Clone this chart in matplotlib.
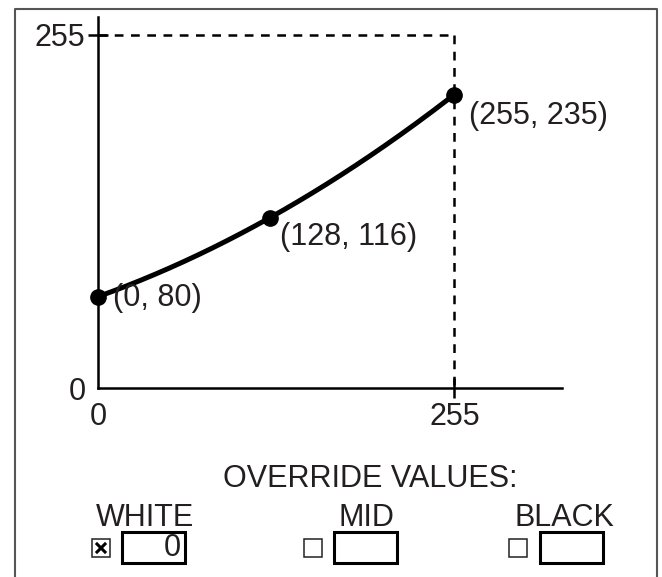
import numpy as np
import matplotlib.pyplot as plt
from matplotlib.patches import Rectangle
from matplotlib.lines import Line2D
from matplotlib import font_manager

names = {f.name for f in font_manager.fontManager.ttflist}
if 'Liberation Sans Narrow' in names:
    plt.rcParams['font.family'] = ['Liberation Sans Narrow', 'DejaVu Sans']
    fs = 26.5
else:
    plt.rcParams['font.family'] = ['Liberation Sans', 'DejaVu Sans']
    fs = 22

# curve points (positions as drawn) and their labels
pt_x = [0, 123, 255]
pt_y = [66, 123, 212]
pt_labels = ['(0, 80)', '(128, 116)', '(255, 235)']
label_offsets = [(15, -1), (10, -19), (15, -21)]

max_val = 255
tick_vals = [0, 255]
tick_labels = ['0', '255']

groups = ['WHITE', 'MID', 'BLACK']
checked = [True, False, False]
values = ['0', '', '']

txt = '#231f20'
W, H = 662, 577
fig = plt.figure(figsize=(W / 100, H / 100), dpi=100)

# overlay axes in pixel units for frame and widgets
ov = fig.add_axes([0, 0, 1, 1])
ov.set_xlim(0, W)
ov.set_ylim(H, 0)
ov.axis('off')

# main graph
ax = fig.add_axes([98 / W, (H - 388) / H, 464 / W, 371 / H])
ax.set_xlim(0, 332)
ax.set_ylim(0, 268)
ax.patch.set_alpha(0)
for s in ['top', 'right']:
    ax.spines[s].set_visible(False)
for s in ['left', 'bottom']:
    ax.spines[s].set_linewidth(1.8)
    ax.spines[s].set_color('black')

ax.set_xticks(tick_vals)
ax.set_xticklabels(tick_labels)
ax.set_yticks(tick_vals)
ax.set_yticklabels(tick_labels)
ax.tick_params(axis='both', direction='inout', length=14, width=1.8,
               labelsize=fs, labelcolor=txt)
ax.tick_params(axis='x', pad=3)
ax.tick_params(axis='y', pad=2)
ax.xaxis.get_major_ticks()[0].tick1line.set_visible(False)
ax.yaxis.get_major_ticks()[0].tick1line.set_visible(False)

# dashed guides at max value
ax.plot([0, max_val], [max_val, max_val], color='black', lw=1.8,
        linestyle=(0, (3.5, 3)), zorder=1)
ax.plot([max_val, max_val], [max_val, 0], color='black', lw=1.8,
        linestyle=(0, (3.5, 3)), zorder=1)

# smooth curve through the points
coef = np.polyfit(pt_x, pt_y, 2)
xs = np.linspace(pt_x[0], pt_x[-1], 200)
ax.plot(xs, np.polyval(coef, xs), color='black', lw=3.6, zorder=3,
        solid_capstyle='round')
ax.plot(pt_x, pt_y, 'o', color='black', markersize=11, zorder=4, clip_on=False)
for x, y, lab, off in zip(pt_x, pt_y, pt_labels, label_offsets):
    ax.annotate(lab, (x, y), xytext=off, textcoords='offset pixels',
                fontsize=fs, color=txt, ha='left', va='center')

# outer frame (open at the bottom)
ov.add_line(Line2D([15, 15, 657, 657], [H + 5, 9, 9, H + 5], color='#555555',
                   lw=1.5, clip_on=False))

# override widgets
ov.text(370, 487, 'OVERRIDE VALUES:', fontsize=fs, color=txt,
        ha='center', va='baseline')
label_cx = [145, 366, 564]
check_cx = [101, 313, 518]
box_x = [122, 334, 540]
for g, c, v, lx, cx, bx in zip(groups, checked, values, label_cx, check_cx, box_x):
    ov.text(lx, 526, g, fontsize=fs, color=txt, ha='center', va='baseline')
    ov.add_patch(Rectangle((cx - 9, 539), 18, 18, fill=False,
                           edgecolor='#222222', lw=1.1))
    if c:
        ov.plot([cx - 4, cx + 4], [544, 552], color='black', lw=2.2)
        ov.plot([cx - 4, cx + 4], [552, 544], color='black', lw=2.2)
    ov.add_patch(Rectangle((bx, 532), 63, 31, fill=False,
                           edgecolor='black', lw=2.2))
    if v:
        ov.text(bx + 59, 548, v, fontsize=fs, color=txt, ha='right', va='center')

fig.savefig('out.png', dpi=100)
